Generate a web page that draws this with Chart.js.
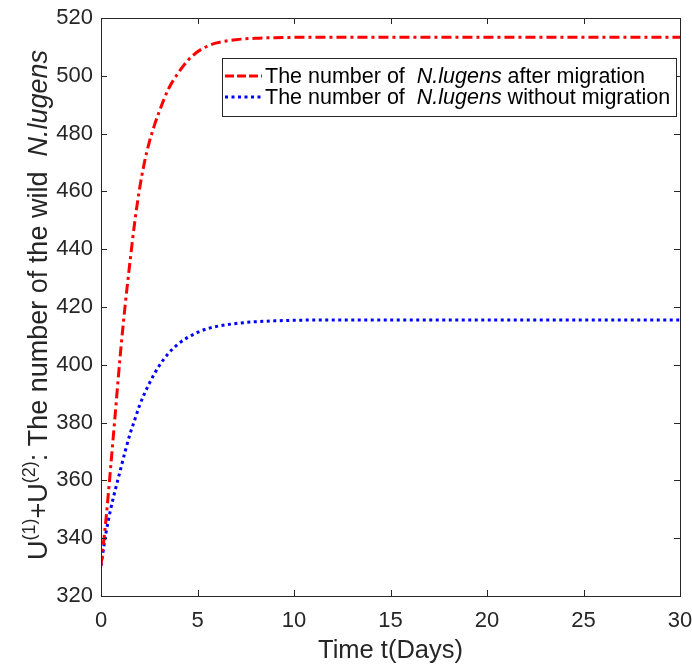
<!DOCTYPE html>
<html>
  <head>
    <script src="https://cdn.jsdelivr.net/npm/chart.js@4.4.0/dist/chart.umd.min.js"></script>
    <style>
      html, body {
        margin: 0;
        padding: 0;
        background: #ffffff;
      }
    </style>
  </head>
  <body>
    <canvas id="myChart" width="692" height="666"></canvas>
    <script>
      // time axis (days) and population of both runs
      var tDays = [0, 0.25, 0.5, 0.75, 1, 1.25, 1.5, 1.75, 2, 2.25, 2.5, 2.75, 3, 3.5, 4, 4.5, 5, 5.5, 6, 7, 8, 9, 10, 12, 15, 20, 25, 30];
      var afterMigration = [330.5, 346, 364.5, 384, 403.5, 420.5, 435.5, 449.5, 461, 470, 477, 482.5, 487.3, 495.5, 501, 505.3, 508.3, 510.2, 511.4, 512.5, 513, 513.2, 513.3, 513.3, 513.3, 513.3, 513.3, 513.3];
      var withoutMigration = [330.5, 341.5, 350, 357, 363.5, 370, 376, 381, 386, 390, 393.5, 396.7, 399.5, 404, 407.2, 409.5, 411.2, 412.5, 413.3, 414.3, 414.9, 415.2, 415.4, 415.5, 415.5, 415.5, 415.5, 415.5];

      var xTicks = [0, 5, 10, 15, 20, 25, 30];
      var yTicks = [320, 340, 360, 380, 400, 420, 440, 460, 480, 500, 520];

      var legendParts = [
        ["The number of  ", "N.lugens", " after migration"],
        ["The number of  ", "N.lugens", " without migration"]
      ];

      var FONT = "'Liberation Sans', Arial, sans-serif";
      var AXIS_COLOR = "#262626";

      function points(values) {
        var out = [];
        for (var i = 0; i < tDays.length; i++) {
          out.push({ x: tDays[i], y: values[i] });
        }
        return out;
      }

      // box around the plot with inward ticks on all four sides
      var boxPlugin = {
        id: "boxPlugin",
        afterDatasetsDraw: function (chart) {
          var ctx = chart.ctx;
          var a = chart.chartArea;
          var xs = chart.scales.x;
          var ys = chart.scales.y;
          var len = 6;
          ctx.save();
          ctx.strokeStyle = AXIS_COLOR;
          ctx.lineWidth = 1;
          ctx.strokeRect(Math.round(a.left) + 0.5, Math.round(a.top) + 0.5,
            Math.round(a.right - a.left), Math.round(a.bottom - a.top));
          ctx.beginPath();
          xTicks.forEach(function (v) {
            var px = Math.round(xs.getPixelForValue(v)) + 0.5;
            ctx.moveTo(px, a.bottom);
            ctx.lineTo(px, a.bottom - len);
            ctx.moveTo(px, a.top);
            ctx.lineTo(px, a.top + len);
          });
          yTicks.forEach(function (v) {
            var py = Math.round(ys.getPixelForValue(v)) + 0.5;
            ctx.moveTo(a.left, py);
            ctx.lineTo(a.left + len, py);
            ctx.moveTo(a.right, py);
            ctx.lineTo(a.right - len, py);
          });
          ctx.stroke();
          ctx.restore();
        }
      };

      // legend with italic species name
      var legendPlugin = {
        id: "legendPlugin",
        afterDraw: function (chart) {
          var ctx = chart.ctx;
          var x0 = 222.5, y0 = 58.5, w = 454, h = 58;
          ctx.save();
          ctx.fillStyle = "#ffffff";
          ctx.fillRect(x0, y0, w, h);
          ctx.strokeStyle = AXIS_COLOR;
          ctx.lineWidth = 1;
          ctx.strokeRect(x0, y0, w, h);

          chart.data.datasets.forEach(function (ds, i) {
            var ly = 76 + i * 21;
            ctx.strokeStyle = ds.borderColor;
            ctx.lineWidth = ds.borderWidth;
            ctx.setLineDash(ds.legendDash);
            ctx.beginPath();
            ctx.moveTo(225, ly);
            ctx.lineTo(262, ly);
            ctx.stroke();
            ctx.setLineDash([]);

            var tx = 265;
            var parts = legendParts[i];
            ctx.fillStyle = "#000000";
            ctx.textBaseline = "alphabetic";
            for (var k = 0; k < parts.length; k++) {
              ctx.font = (k === 1 ? "italic " : "") + "21.5px " + FONT;
              ctx.fillText(parts[k], tx, ly + 7);
              tx += ctx.measureText(parts[k]).width;
            }
          });
          ctx.restore();
        }
      };

      // rotated y title with superscripts
      var yTitlePlugin = {
        id: "yTitlePlugin",
        afterDraw: function (chart) {
          var ctx = chart.ctx;
          var pieces = [
            { t: "U", f: "27px " + FONT, dy: 0 },
            { t: "(1)", f: "18px " + FONT, dy: -12 },
            { t: "+U", f: "27px " + FONT, dy: 0 },
            { t: "(2)", f: "18px " + FONT, dy: -12 },
            { t: ": The number of the wild  ", f: "27px " + FONT, dy: 0 },
            { t: "N.lugens", f: "italic 27px " + FONT, dy: 0 }
          ];
          ctx.save();
          var total = 0;
          pieces.forEach(function (p) {
            ctx.font = p.f;
            p.w = ctx.measureText(p.t).width;
            total += p.w;
          });
          ctx.translate(47, 305);
          ctx.rotate(-Math.PI / 2);
          ctx.fillStyle = AXIS_COLOR;
          ctx.textBaseline = "alphabetic";
          var x = -total / 2;
          pieces.forEach(function (p) {
            ctx.font = p.f;
            ctx.fillText(p.t, x, p.dy);
            x += p.w;
          });
          ctx.restore();
        }
      };

      var ctx = document.getElementById("myChart").getContext("2d");
      var chart = new Chart(ctx, {
        type: "line",
        data: {
          datasets: [
            {
              label: "after migration",
              data: points(afterMigration),
              borderColor: "#ff0000",
              borderWidth: 3,
              borderDash: [10, 4, 3, 4],
              legendDash: [9, 3],
              pointRadius: 0,
              fill: false,
              cubicInterpolationMode: "monotone"
            },
            {
              label: "without migration",
              data: points(withoutMigration),
              borderColor: "#0000ff",
              borderWidth: 3,
              borderDash: [3, 3.5],
              legendDash: [3, 3.5],
              pointRadius: 0,
              fill: false,
              cubicInterpolationMode: "monotone"
            }
          ]
        },
        options: {
          responsive: false,
          animation: false,
          maintainAspectRatio: false,
          devicePixelRatio: 1,
          layout: {
            padding: { top: 18, right: 12, left: 0, bottom: 0 }
          },
          plugins: {
            legend: { display: false },
            tooltip: { enabled: false }
          },
          scales: {
            x: {
              type: "linear",
              min: 0,
              max: 30,
              grid: { display: false, drawTicks: false },
              border: { display: false },
              afterFit: function (scale) {
                scale.height = 70;
                scale.paddingLeft = 0;
                scale.paddingRight = 0;
              },
              ticks: {
                stepSize: 5,
                padding: 12,
                color: AXIS_COLOR,
                font: { family: FONT, size: 22 },
                maxRotation: 0
              },
              title: {
                display: true,
                text: "Time t(Days)",
                color: AXIS_COLOR,
                font: { family: FONT, size: 25.5 },
                padding: { top: 3, bottom: 0 }
              }
            },
            y: {
              min: 320,
              max: 520,
              grid: { display: false, drawTicks: false },
              border: { display: false },
              afterFit: function (scale) {
                scale.width = 101;
                scale.paddingTop = 0;
                scale.paddingBottom = 0;
              },
              ticks: {
                stepSize: 20,
                padding: 8,
                color: AXIS_COLOR,
                font: { family: FONT, size: 22 }
              }
            }
          }
        },
        plugins: [boxPlugin, legendPlugin, yTitlePlugin]
      });
    </script>
  </body>
</html>
